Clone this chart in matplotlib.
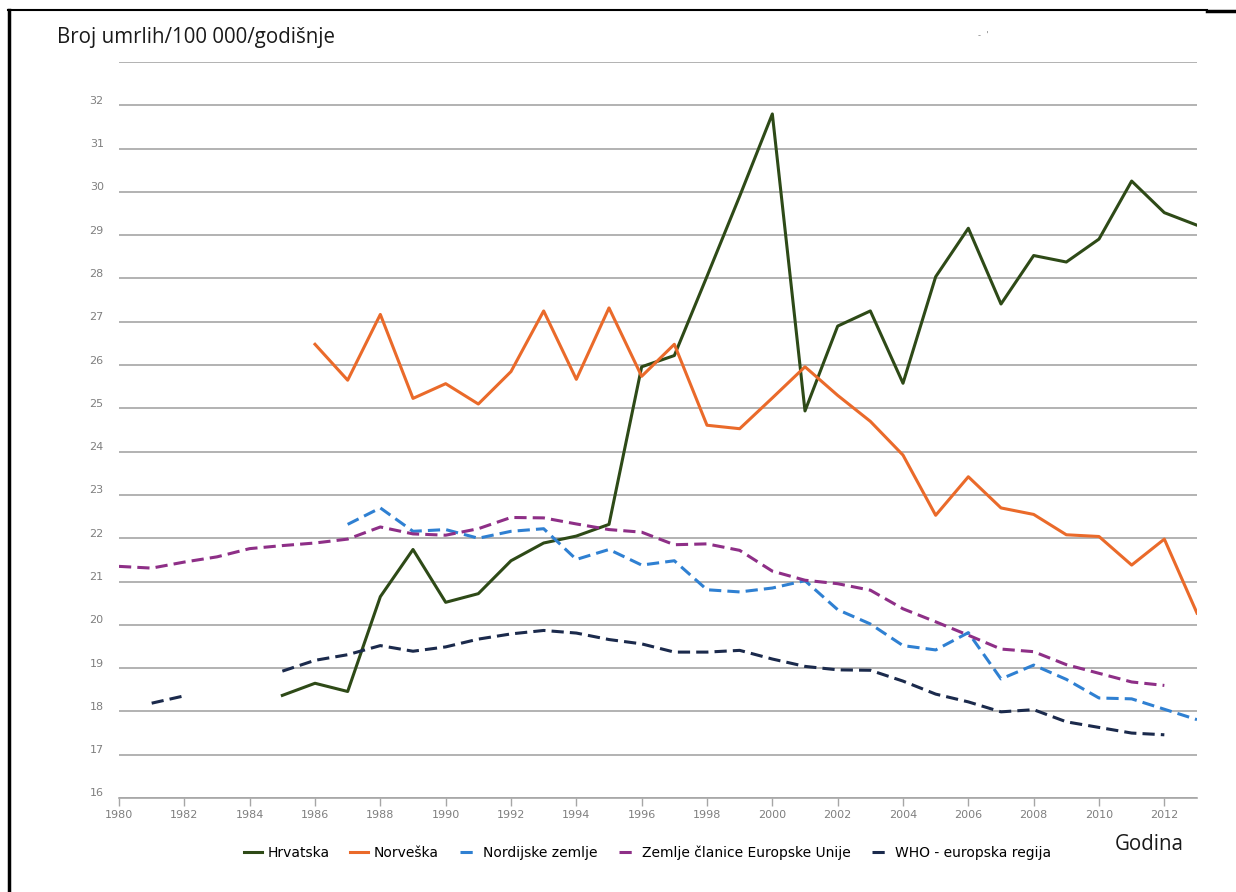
import numpy as np
import matplotlib.pyplot as plt
import matplotlib.transforms as mtransforms
from matplotlib.lines import Line2D

# podaci: broj umrlih na 100 000 stanovnika godisnje
years = np.arange(1980, 2014)
nan = np.nan

hrvatska = [nan] * 5 + [18.37, 18.65, 18.46, 20.65, 21.74, 20.52, 20.72, 21.48, 21.89, 22.05,
                        22.32, 25.96, 26.22, 28.05, 29.90, 31.80, 24.94, 26.90, 27.25, 25.58,
                        28.04, 29.16, 27.41, 28.53, 28.38, 28.91, 30.25, 29.52, 29.23]
norveska = [nan] * 6 + [26.48, 25.65, 27.17, 25.23, 25.57, 25.10, 25.85, 27.25, 25.67, 27.32,
                        25.74, 26.48, 24.61, 24.53, 25.24, 25.96, 25.30, 24.70, 23.92, 22.53,
                        23.42, 22.70, 22.55, 22.08, 22.04, 21.38, 21.98, 20.27]
nordijske = [nan] * 7 + [22.32, 22.70, 22.16, 22.20, 22.00, 22.16, 22.22, 21.51, 21.74, 21.38,
                         21.48, 20.81, 20.76, 20.85, 21.02, 20.35, 20.02, 19.52, 19.42, 19.82,
                         18.75, 19.07, 18.74, 18.31, 18.29, 18.05, 17.81]
eu = [21.35, 21.31, 21.45, 21.57, 21.76, 21.83, 21.89, 21.98, 22.26, 22.10,
      22.07, 22.22, 22.48, 22.47, 22.33, 22.20, 22.14, 21.85, 21.87, 21.72,
      21.24, 21.03, 20.95, 20.80, 20.37, 20.07, 19.76, 19.44, 19.38, 19.08,
      18.88, 18.68, 18.60, nan]
who = [nan, 18.19, 18.36, nan, nan, 18.93, 19.18, 19.31, 19.52, 19.39,
       19.49, 19.67, 19.79, 19.87, 19.81, 19.66, 19.56, 19.37, 19.37, 19.41,
       19.21, 19.04, 18.96, 18.95, 18.70, 18.40, 18.22, 17.99, 18.04, 17.76,
       17.63, 17.50, 17.46, nan]

labels = ["Hrvatska", "Norveška", "Nordijske zemlje",
          "Zemlje članice Europske Unije", "WHO - europska regija"]
colors = ["#2e4a17", "#ea6a2a", "#2f80d2", "#8e2f87", "#1b2a4c"]
styles = ["-", "-", (0, (4, 2)), (0, (4, 2)), (0, (4, 2))]

fig = plt.figure(figsize=(12.36, 8.92), dpi=100)
ax = fig.add_axes([119 / 1236, 1 - 798 / 892, (1197 - 119) / 1236, (798 - 62) / 892])

for vals, lab, col, ls in zip([hrvatska, norveska, nordijske, eu, who], labels, colors, styles):
    ax.plot(years, vals, color=col, linestyle=ls, linewidth=2.2, label=lab)

ax.set_xlim(1980, 2013)
ax.set_ylim(16, 33)
ax.set_xticks(np.arange(1980, 2013, 2))
ax.set_yticks(np.arange(16, 34))
ax.set_yticklabels([str(v) for v in range(16, 33)] + [""])
ax.grid(axis="y", color="#a6a6a6", linewidth=1.2)
ax.set_axisbelow(True)
for s in ["left", "right", "top"]:
    ax.spines[s].set_visible(False)
ax.spines["bottom"].set_color("#a6a6a6")
ax.spines["bottom"].set_linewidth(1.2)
ax.tick_params(axis="y", length=0, pad=11, labelsize=8, labelcolor="#7f7f7f")
ax.tick_params(axis="x", length=6, width=1.0, color="#a6a6a6", pad=3,
               labelsize=8, labelcolor="#7f7f7f")

# oznake y malo iznad linija
offset = mtransforms.ScaledTranslation(0, 4 / 72, fig.dpi_scale_trans)
for t in ax.get_yticklabels():
    t.set_transform(t.get_transform() + offset)

fig.text(57 / 1236, 1 - 38 / 892, "Broj umrlih/100 000/godišnje", fontsize=14.8,
         family="Open Sans", color="#1a1a1a", va="center", ha="left")
fig.text(1115 / 1236, 1 - 845 / 892, "Godina", fontsize=14.8,
         family="Open Sans", color="#1a1a1a", va="center", ha="left")
fig.text(978 / 1236, 1 - 35 / 892, "-  '", fontsize=6, color="#888888", va="center")

fig.legend(loc="center", bbox_to_anchor=(0.524, 1 - 853 / 892), ncol=5, frameon=False,
           fontsize=10, handlelength=1.3, handletextpad=0.4, columnspacing=1.5)

# okvir (snimka zaslona)
fig.add_artist(Line2D([8 / 1236, 1207 / 1236], [1 - 10 / 892] * 2, color="black", lw=1.5))
fig.add_artist(Line2D([9 / 1236] * 2, [0, 1 - 10 / 892], color="black", lw=2.5))
fig.add_artist(Line2D([1207 / 1236, 1], [1 - 11 / 892] * 2, color="black", lw=2.5))

fig.savefig("out.png", dpi=100)
